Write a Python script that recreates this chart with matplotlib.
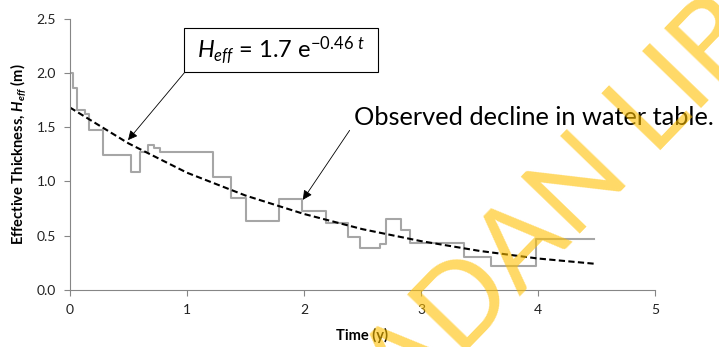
import matplotlib
matplotlib.use("Agg")
import matplotlib.pyplot as plt
from matplotlib.patches import Rectangle

plt.rcParams['font.family'] = ['Lato', 'DejaVu Sans']
plt.rcParams['mathtext.fontset'] = 'custom'
plt.rcParams['mathtext.rm'] = 'Lato'
plt.rcParams['mathtext.it'] = 'Lato:italic'
plt.rcParams['mathtext.bf'] = 'Lato:bold'
plt.rcParams['mathtext.bfit'] = 'Lato:italic:bold'

# observed effective thickness (step record)
t_obs = [0, 0.025, 0.06, 0.125, 0.16, 0.28, 0.52, 0.595, 0.67, 0.72, 0.77,
         1.225, 1.375, 1.505, 1.79, 1.985, 2.185, 2.375, 2.48, 2.65, 2.70,
         2.83, 2.905, 3.37, 3.595, 3.985, 4.48]
h_obs = [2.0, 1.86, 1.655, 1.625, 1.47, 1.24, 1.09, 1.27, 1.335, 1.305, 1.268,
         1.045, 0.845, 0.637, 0.84, 0.73, 0.62, 0.49, 0.384, 0.42, 0.655,
         0.552, 0.43, 0.307, 0.224, 0.467, 0.467]

# exponential trend line
t_fit = [0, 0.5, 1.0, 1.5, 2.0, 2.5, 3.0, 3.5, 4.0, 4.5]
h_fit = [1.68, 1.35, 1.08, 0.87, 0.70, 0.56, 0.45, 0.36, 0.29, 0.24]

xticks = [0, 1, 2, 3, 4, 5]
yticks = [0.0, 0.5, 1.0, 1.5, 2.0, 2.5]

fig = plt.figure(figsize=(7.19, 3.47), dpi=100)
ax = fig.add_axes([70/719, 1-290/347, 585/719, 271.5/347])

ax.step(t_obs, h_obs, where='post', color='#a6a6a6', lw=1.5)
ax.plot(t_fit, h_fit, color='black', lw=1.5, linestyle=(0, (3, 1.6)))

ax.set_xlim(0, 5)
ax.set_ylim(0, 2.5)
ax.set_xticks(xticks)
ax.set_xticklabels([str(v) for v in xticks])
ax.set_yticks(yticks)
ax.set_yticklabels(['%.1f' % v for v in yticks])
for s in ['top', 'right']:
    ax.spines[s].set_visible(False)
for s in ['left', 'bottom']:
    ax.spines[s].set_color('#868686')
    ax.spines[s].set_linewidth(0.8)
ax.tick_params(direction='out', length=4, width=0.8, color='#868686',
               labelsize=10, labelcolor='#222222')
ax.tick_params(axis='y', pad=6)
ax.tick_params(axis='x', pad=6)

ax.set_xlabel('Time (y)', fontsize=10.5, fontweight='bold', labelpad=9)
ax.set_ylabel(r'Effective Thickness, $\mathbfit{H}_{\mathbfit{eff}}$ (m)',
              fontsize=10.5, fontweight='bold', labelpad=6)

# equation box
ax.add_patch(Rectangle((0.975, 2.005), 1.655, 0.405, fc='white', ec='black',
                       lw=0.8, clip_on=False, zorder=4))
ax.text(1.80, 2.21, r'$\mathit{H}_{\mathit{eff}}$ = 1.7 e$^{-0.46\ \mathit{t}}$',
        fontsize=17, ha='center', va='center', zorder=5)
ax.annotate('', xy=(0.496, 1.38), xytext=(0.985, 2.01),
            arrowprops=dict(arrowstyle='-|>', color='black', lw=0.6,
                            mutation_scale=14, shrinkA=0, shrinkB=0))

ax.text(2.43, 1.585, 'Observed decline in water table.', fontsize=18.3,
        ha='left', va='center', clip_on=False)
ax.annotate('', xy=(1.99, 0.83), xytext=(2.39, 1.47),
            arrowprops=dict(arrowstyle='-|>', color='black', lw=0.6,
                            mutation_scale=14, shrinkA=0, shrinkB=0))

# watermark
fig.text(406/719, 1-414/347, 'ADAN LIBRARY', fontsize=82, color='#ffc000',
         alpha=0.6, rotation=46, rotation_mode='anchor', ha='left',
         va='baseline', zorder=10)

fig.savefig('out.png', dpi=100)
